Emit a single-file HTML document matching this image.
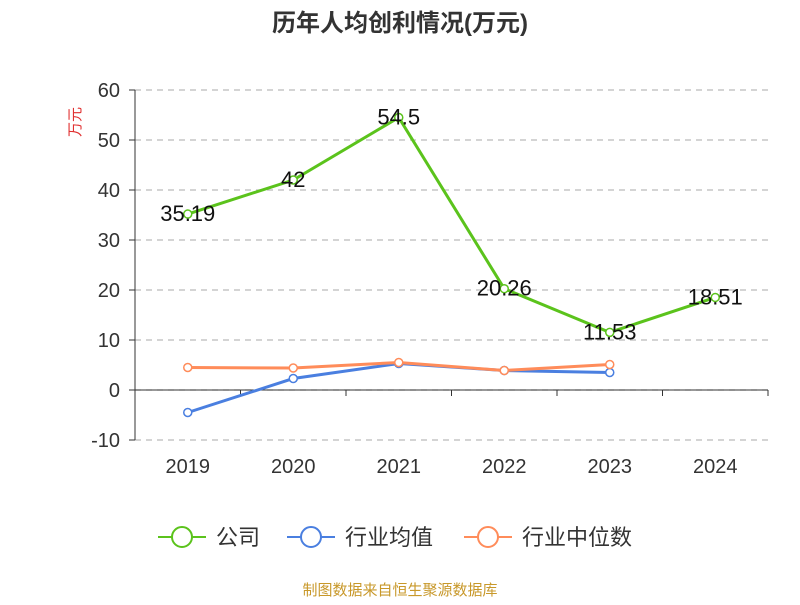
<!DOCTYPE html>
<html><head><meta charset="utf-8"><style>
body{margin:0;background:#fff;font-family:"Liberation Sans","Noto Sans CJK SC",sans-serif}
</style></head><body>
<svg id="c" width="800" height="600" xmlns="http://www.w3.org/2000/svg" font-family="Liberation Sans, Noto Sans CJK SC, sans-serif">
<text x="400" y="31" text-anchor="middle" font-size="24" font-weight="bold" fill="#333">历年人均创利情况(万元)</text>
<text transform="translate(80,122) rotate(-90)" text-anchor="middle" font-size="15" fill="#e03030">万元</text>
<g id="grid"></g><g id="axes"></g><g id="series"></g>
<g>
<g><line x1="158" y1="537" x2="206" y2="537" stroke="#5bc31c" stroke-width="2"/><circle cx="182" cy="537" r="10" fill="#fff" stroke="#5bc31c" stroke-width="2"/><text x="216" y="545" font-size="22" fill="#333">公司</text></g>
<g><line x1="287" y1="537" x2="335" y2="537" stroke="#4a7fe0" stroke-width="2"/><circle cx="311" cy="537" r="10" fill="#fff" stroke="#4a7fe0" stroke-width="2"/><text x="345" y="545" font-size="22" fill="#333">行业均值</text></g>
<g><line x1="464" y1="537" x2="512" y2="537" stroke="#ff8c5a" stroke-width="2"/><circle cx="488" cy="537" r="10" fill="#fff" stroke="#ff8c5a" stroke-width="2"/><text x="522" y="545" font-size="22" fill="#333">行业中位数</text></g>
</g>
<text x="400" y="595" text-anchor="middle" font-size="15" fill="#c8982a">制图数据来自恒生聚源数据库</text>
</svg>
<script>
const categories=["2019","2020","2021","2022","2023","2024"];
const companyValues=[35.19,42,54.5,20.26,11.53,18.51];
const avgValues=[-4.5,2.3,5.3,3.9,3.5,null];
const medianValues=[4.5,4.4,5.5,3.9,5.1,null];
const yTicks=[-10,0,10,20,30,40,50,60];
const NS="http://www.w3.org/2000/svg";
const L=135,R=768,T=90,B=440,yMin=-10,yMax=60;
const band=(R-L)/categories.length;
const xs=i=>L+band*(i+0.5);
const ys=v=>B-(v-yMin)/(yMax-yMin)*(B-T);
function mk(tag,attrs,parent){const e=document.createElementNS(NS,tag);for(const k in attrs)e.setAttribute(k,attrs[k]);document.getElementById(parent).appendChild(e);return e;}
yTicks.forEach(t=>{
 const g=mk('line',{x1:L,x2:R,y1:ys(t),y2:ys(t),stroke:'#bbb','stroke-dasharray':'6,5','stroke-width':1.2},'grid');
 
 
 const tx=mk('text',{x:L-15,y:ys(t)+7,'text-anchor':'end','font-size':20,fill:'#333'},'axes');tx.textContent=t;
 
 
 mk('line',{x1:L-6,x2:L,y1:ys(t),y2:ys(t),stroke:'#333'},'axes');
});
const ya=mk('line',{x1:L,x2:L,y1:T,y2:B,stroke:'#333'},'axes');


const xa=mk('line',{x1:L,x2:R,y1:ys(0),y2:ys(0),stroke:'#333'},'axes');


for(let i=0;i<=categories.length;i++)mk('line',{x1:L+band*i,x2:L+band*i,y1:ys(0),y2:ys(0)+6,stroke:'#333'},'axes');
categories.forEach((c,i)=>{const t=mk('text',{x:xs(i),y:473,'text-anchor':'middle','font-size':20,fill:'#333'},'axes');t.textContent=c;
 
 });
function series(vals,color,name,labels){
 const pts=vals.map((v,i)=>v==null?null:[xs(i),ys(v)]).filter(p=>p);
 const p=mk('polyline',{points:pts.map(p=>p.join(',')).join(' '),fill:'none',stroke:color,'stroke-width':3},'series');
 
 
 vals.forEach((v,i)=>{if(v==null)return;
  const c=mk('circle',{cx:xs(i),cy:ys(v),r:4,fill:'#fff',stroke:color,'stroke-width':1.5},'series');
  
  
  if(labels){const t=mk('text',{x:xs(i),y:ys(v)+7,'text-anchor':'middle','font-size':22,fill:'#111'},'series');t.textContent=v;
   
   }
 });
}
series(avgValues,'#4a7fe0','industry-avg',false);
series(medianValues,'#ff8c5a','industry-median',false);
series(companyValues,'#5bc31c','company',true);
</script>
</body></html>
